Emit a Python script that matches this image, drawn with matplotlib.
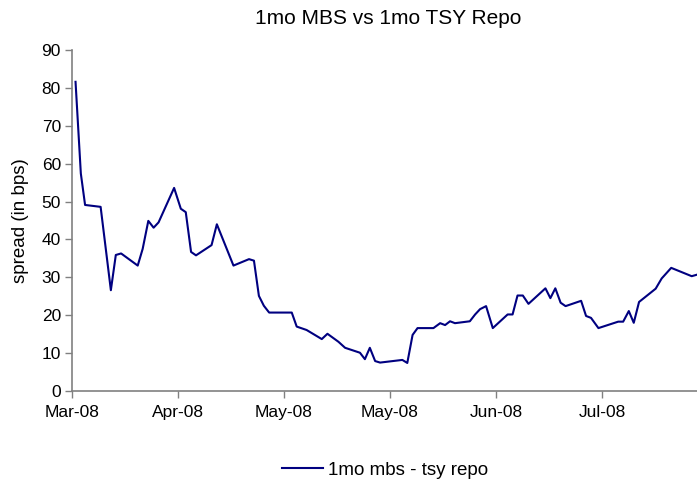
import matplotlib.pyplot as plt

plt.rcParams['font.family'] = ['Liberation Sans', 'DejaVu Sans']

# days counted from the first tick (Mar-08), ticks every 30 days
days = [1, 2.5, 3.7, 8.1, 11.0, 12.4, 13.9, 18.6, 20.0, 21.6, 23.1, 24.5, 28.9,
        30.8, 32.2, 33.7, 35.1, 39.5, 41.0, 45.7, 50.1, 51.5, 52.9, 54.3, 55.8,
        62.2, 63.6, 66.4, 70.7, 72.3, 75.4, 77.3, 81.5, 82.9, 84.3, 85.8, 87.2,
        93.5, 94.9, 96.4, 97.8, 102.3, 104.2, 105.6, 107.0, 108.4, 112.6, 114.1,
        115.5, 117.2, 119.1, 123.3, 124.7, 126.1, 127.6, 129.2, 134.0, 135.4,
        136.8, 138.3, 139.7, 144.1, 145.5, 146.9, 149.0, 154.6, 156.0, 157.6,
        159.0, 160.5, 165.2, 166.9, 169.6, 175.4, 176.9]
spread = [81.6, 57.4, 49.1, 48.6, 26.6, 35.9, 36.3, 33.1, 37.5, 44.9, 43.1, 44.5, 53.6,
          48.1, 47.2, 36.7, 35.8, 38.5, 44.0, 33.1, 34.8, 34.4, 25.1, 22.5, 20.7,
          20.7, 17.0, 16.1, 13.7, 15.1, 13.0, 11.4, 10.1, 8.4, 11.4, 7.9, 7.5,
          8.2, 7.4, 14.8, 16.6, 16.6, 17.9, 17.4, 18.4, 17.9, 18.4, 20.2,
          21.6, 22.4, 16.6, 20.2, 20.2, 25.2, 25.2, 23.0, 27.1, 24.5,
          27.1, 23.3, 22.4, 23.8, 19.8, 19.3, 16.6, 18.3, 18.3, 21.1,
          18.0, 23.5, 27.0, 29.7, 32.5, 30.3, 30.7]

tick_pos = [0, 30, 60, 90, 120, 150]
tick_labels = ['Mar-08', 'Apr-08', 'May-08', 'May-08', 'Jun-08', 'Jul-08']

fig = plt.figure(figsize=(6.97, 4.82), dpi=100)
ax = fig.add_axes([0.1033, 0.1888, 0.8967, 0.7075])

ax.plot(days, spread, color='#000080', lw=1.5, label='1mo mbs - tsy repo')

ax.set_xlim(0, 176.9)
ax.set_ylim(0, 90)
ax.set_yticks(range(0, 91, 10))
ax.set_xticks(tick_pos)
ax.set_xticklabels(tick_labels)

for s in ['top', 'right']:
    ax.spines[s].set_visible(False)
for s in ['left', 'bottom']:
    ax.spines[s].set_color('#808080')
    ax.spines[s].set_linewidth(1.2)
ax.tick_params(direction='out', length=5, color='#808080', labelsize=12.5, width=1)
ax.tick_params(axis='x', pad=5)
ax.tick_params(axis='y', pad=3)

ax.set_ylabel('spread (in bps)', fontsize=13.5, labelpad=9)
fig.text(0.557, 1 - 18 / 482, '1mo MBS vs 1mo TSY Repo', fontsize=15,
         ha='center', va='center')

ax.legend(loc='center', bbox_to_anchor=(385 / 697, 1 - 470 / 482), bbox_transform=fig.transFigure,
          frameon=False, fontsize=13.5, handlelength=2.2, handletextpad=0.3)

fig.savefig('out.png', dpi=100)
